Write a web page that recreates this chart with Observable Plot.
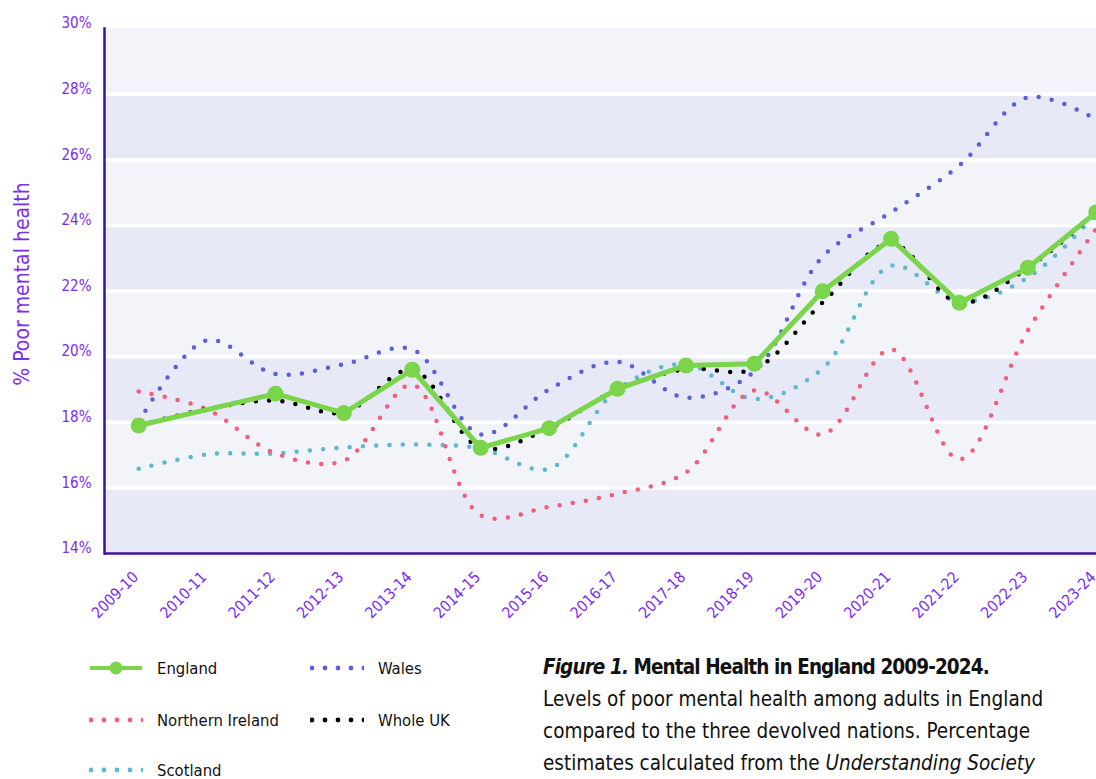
<!DOCTYPE html>
<html>
<head>
<meta charset="utf-8">
<script src="https://cdn.jsdelivr.net/npm/d3@7"></script>
<script src="https://cdn.jsdelivr.net/npm/@observablehq/plot@0.6"></script>
<style>
  html, body { margin: 0; padding: 0; background: #fff; overflow: hidden; }
  #wrap { position: relative; width: 1096px; height: 779px; overflow: hidden;
    font-family: "Liberation Sans Narrow", "DejaVu Sans Condensed", "Roboto Condensed", Roboto, sans-serif; }
  #chart { position: absolute; left: 0; top: 0; width: 1130px; }
  #chart svg { max-width: none !important; }
  .leg { position: absolute; display: flex; align-items: center; font-size: 16.5px; color: #111; }
  .leg svg { margin-right: 14px; }
  #caption { position: absolute; left: 543px; top: 651px; font-size: 20.5px; line-height: 32px; color: #111; white-space: nowrap; }
  #caption b { letter-spacing: -0.9px; }
</style>
</head>
<body>
<div id="wrap">
  <div id="chart"></div>
  <div id="legend"></div>
  <div id="caption">
    <b><i>Figure 1.</i> Mental Health in England 2009-2024.</b><br>
    Levels of poor mental health among adults in England<br>
    compared to the three devolved nations. Percentage<br>
    estimates calculated from the <i>Understanding Society</i>
  </div>
</div>
<script>
const years = ["2009-10","2010-11","2011-12","2012-13","2013-14","2014-15","2015-16","2016-17","2017-18","2018-19","2019-20","2020-21","2021-22","2022-23","2023-24"];
const england = [17.90, null, 18.87, 18.28, 19.60, 17.22, 17.82, 19.02, 19.73, 19.78, 21.99, 23.59, 21.64, 22.71, 24.40];
const wales = [18.00, 20.50, 19.47, 19.77, 20.22, 17.63, 19.00, 19.84, 18.75, 19.55, 23.05, 24.40, 25.83, 27.90, 27.23];
const northernIreland = [18.94, 18.39, 17.05, 16.83, 19.14, 15.17, 15.42, 15.82, 16.47, 18.97, 17.63, 20.22, 16.87, 20.80, 23.90];
const scotland = [16.58, 17.02, 17.05, 17.23, 17.32, 17.20, 16.58, 19.00, 19.77, 18.71, 19.64, 22.77, 21.68, 22.41, 24.36];
const wholeUK = [17.90, 18.40, 18.66, 18.30, 19.60, 17.22, 17.82, 19.00, 19.62, 19.62, 21.65, 23.45, 21.64, 22.71, 24.40];
const yTicks = [14, 16, 18, 20, 22, 24, 26, 28, 30];
const darkBands = [14, 18, 22, 26];
const yLabel = "% Poor mental health";

const seriesNames = ["England", "Wales", "Northern Ireland", "Whole UK", "Scotland"];
const colors = {"England": "#7bd54b", "Wales": "#5b60d6", "Northern Ireland": "#f45d7a", "Whole UK": "#000000", "Scotland": "#5cb8cd"};

const toRows = (arr) => years.map((year, i) => ({year, value: arr[i]})).filter(d => d.value != null);
const rows = {
  "England": toRows(england),
  "Wales": toRows(wales),
  "Northern Ireland": toRows(northernIreland),
  "Whole UK": toRows(wholeUK),
  "Scotland": toRows(scotland)
};

const purple = "#7b2cf3";
const axisDark = "#41109a";
const dotted = (name) => Plot.line(rows[name], {
  x: "year", y: "value", curve: "catmull-rom",
  stroke: colors[name], strokeWidth: 4.5, strokeDasharray: "0 13.3", strokeLinecap: "round"
});

const chart = Plot.plot({
  width: 1130,
  height: 630,
  marginLeft: 104,
  marginRight: 0,
  marginTop: 28,
  marginBottom: 77,
  style: {fontFamily: "\"Liberation Sans Narrow\", \"DejaVu Sans Condensed\", \"Roboto Condensed\", Roboto, sans-serif", background: "transparent", overflow: "visible", maxWidth: "none"},
  x: {type: "point", domain: years, padding: 0.5, round: false, axis: null, label: null},
  y: {domain: [14, 30], axis: null, label: null},
  marks: [
    Plot.frame({fill: "#f3f4fa", stroke: null}),
    Plot.rectY(darkBands, {y1: d => d, y2: d => d + 2, fill: "#e7e9f7"}),
    Plot.ruleY(yTicks.slice(1, -1), {stroke: "#ffffff", strokeWidth: 3.5}),
    Plot.axisY({ticks: yTicks, tickFormat: d => d + "%", tickSize: 0, tickPadding: 13, fontSize: 15, fill: purple, dy: -5, label: null}),
    Plot.axisX({tickRotate: -45, tickSize: 0, tickPadding: 21, fontSize: 15.5, fill: purple, label: null, dx: -3}),
    Plot.text([yLabel], {frameAnchor: "left", textAnchor: "middle", text: d => d, rotate: -90, dx: -82, dy: -7, fontSize: 21, fill: purple}),
    dotted("Scotland"),
    dotted("Northern Ireland"),
    dotted("Wales"),
    dotted("Whole UK"),
    Plot.line(rows["England"], {x: "year", y: "value", stroke: colors["England"], strokeWidth: 5}),
    Plot.dot(rows["England"], {x: "year", y: "value", r: 8, fill: colors["England"]}),
    Plot.frame({anchor: "left", stroke: axisDark, strokeWidth: 2.5}),
    Plot.ruleY([14], {stroke: axisDark, strokeWidth: 2.5})
  ]
});
document.getElementById("chart").appendChild(chart);

// Legend
const legendPos = {
  "England": [89, 668], "Wales": [310, 668],
  "Northern Ireland": [89, 720], "Whole UK": [310, 720],
  "Scotland": [89, 770]
};
const legend = document.getElementById("legend");
for (const name of seriesNames) {
  const [lx, ly] = legendPos[name];
  const div = document.createElement("div");
  div.className = "leg";
  div.style.left = lx + "px";
  div.style.top = (ly - 12) + "px";
  div.style.height = "24px";
  let sw;
  if (name === "England") {
    sw = `<svg width="54" height="24"><line x1="1" x2="53" y1="12" y2="12" stroke="${colors[name]}" stroke-width="4"/><circle cx="27" cy="12" r="6.5" fill="${colors[name]}"/></svg>`;
  } else {
    sw = `<svg width="54" height="24">` + [0,1,2,3,4].map(k => `<circle cx="${2 + k * 13}" cy="12" r="2.4" fill="${colors[name]}"/>`).join("") + `</svg>`;
  }
  div.innerHTML = sw + `<span>${name}</span>`;
  legend.appendChild(div);
}
</script>
</body>
</html>
